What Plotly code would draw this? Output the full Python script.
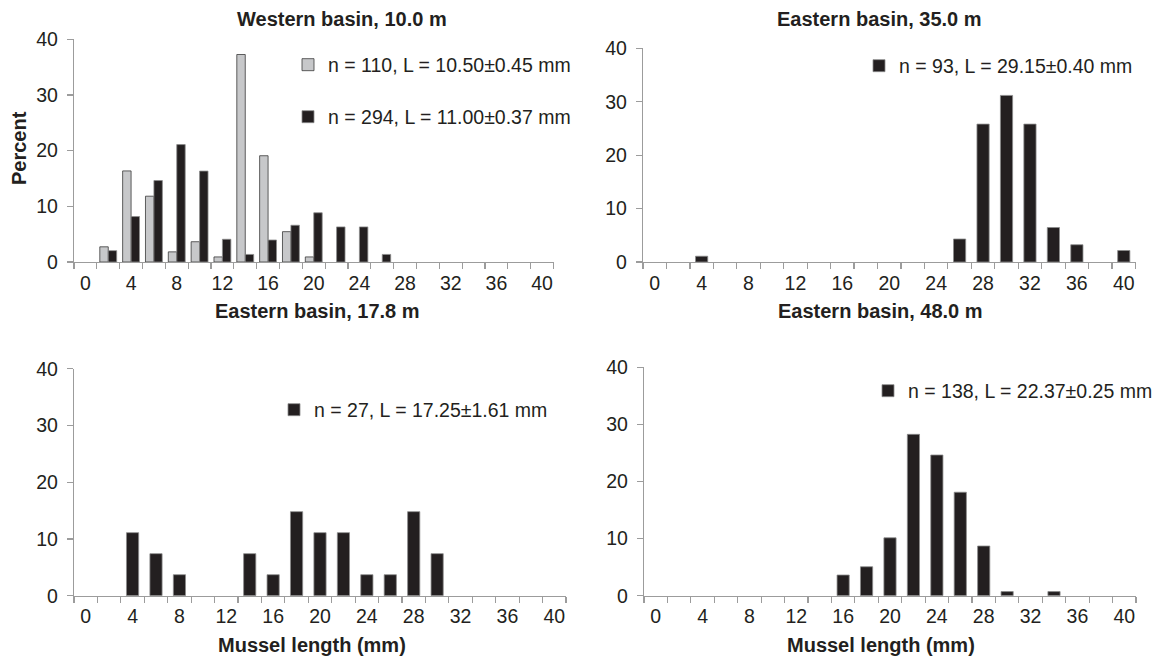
import plotly.graph_objects as go

W, H = 1158, 661

# ---------------- data ----------------
lengths = list(range(0, 42, 2))  # size classes (mm)
tick_values = list(range(0, 44, 4))
tick_labels = [str(v) for v in tick_values]
N = None  # empty size class

west10_a = [N, 2.73, 16.36, 11.82, 1.82, 3.64, 0.91, 37.27, 19.09, 5.45, 0.91,
            N, N, N, N, N, N, N, N, N, N]
west10_b = [N, 2.04, 8.16, 14.63, 21.09, 16.33, 4.08, 1.36, 3.95, 6.6, 8.84,
            6.3, 6.3, 1.36, N, N, N, N, N, N, N]
east35 = [N, N, 1.08, N, N, N, N, N, N, N, N, N, N, 4.30, 25.81, 31.18, 25.81,
          6.45, 3.23, N, 2.15]
east178 = [N, N, 11.11, 7.41, 3.70, N, N, 7.41, 3.70, 14.81, 11.11, 11.11, 3.70,
           3.70, 14.81, 7.41, N, N, N, N, N]
east48 = [N, N, N, N, N, N, N, N, 3.62, 5.07, 10.14, 28.26, 24.64, 18.12, 8.70,
          0.72, N, 0.72, N, N, N]

leg_west_a = "n = 110, L = 10.50±0.45 mm"
leg_west_b = "n = 294, L = 11.00±0.37 mm"
leg_e35 = "n = 93, L = 29.15±0.40 mm"
leg_e178 = "n = 27, L = 17.25±1.61 mm"
leg_e48 = "n = 138, L = 22.37±0.25 mm"

titles = ["Western basin, 10.0 m", "Eastern basin, 35.0 m",
          "Eastern basin, 17.8 m", "Eastern basin, 48.0 m"]
x_title = "Mussel length (mm)"
y_title = "Percent"

# ---------------- styling ----------------
BLACK = "#231f20"
GRAY = "#c7c8ca"
AXIS = "#9c9c9c"
FONT = "Liberation Sans, Arial, Helvetica, sans-serif"
FS = 19.5

def px_x(p):
    return p / W

def px_y(p):
    return 1 - p / H

# plot areas in pixels: (x0, x1, ytop, ybottom)
areas = [
    (74, 553.5, 39.3, 262),
    (643, 1135.5, 48.3, 262),
    (74, 566, 368.7, 595.7),
    (644, 1136, 367.3, 595.7),
]

fig = go.Figure()
edge_dark = dict(color="#8c8c8c", width=0.8)

fig.add_trace(go.Bar(x=lengths, y=west10_a, name=leg_west_a, marker_color=GRAY,
                     marker_line=dict(color="#3a3a3a", width=0.8),
                     xaxis="x", yaxis="y", legend="legend"))
fig.add_trace(go.Bar(x=lengths, y=west10_b, name=leg_west_b, marker_color=BLACK,
                     marker_line=edge_dark,
                     xaxis="x", yaxis="y", legend="legend5"))
fig.add_trace(go.Bar(x=lengths, y=east35, name=leg_e35, marker_color=BLACK,
                     marker_line=edge_dark, width=1.04,
                     xaxis="x2", yaxis="y2", legend="legend2"))
fig.add_trace(go.Bar(x=lengths, y=east178, name=leg_e178, marker_color=BLACK,
                     marker_line=edge_dark, width=1.04,
                     xaxis="x3", yaxis="y3", legend="legend3"))
fig.add_trace(go.Bar(x=lengths, y=east48, name=leg_e48, marker_color=BLACK,
                     marker_line=edge_dark, width=1.04,
                     xaxis="x4", yaxis="y4", legend="legend4"))

layout = dict(
    width=W, height=H,
    margin=dict(l=0, r=0, t=0, b=0, autoexpand=False),
    paper_bgcolor="white", plot_bgcolor="white",
    font=dict(family=FONT, size=FS, color="#231f20"),
    barmode="group", bargap=0.26, bargroupgap=0,
    showlegend=True,
)

for i, (x0, x1, yt, yb) in enumerate(areas):
    sfx = "" if i == 0 else str(i + 1)
    layout["xaxis" + sfx] = dict(
        domain=[px_x(x0), px_x(x1)], anchor="y" + sfx,
        range=[-1, 41], tickvals=tick_values, ticktext=tick_labels,
        ticks="outside", ticklen=3, tickcolor="rgba(0,0,0,0)",
        showline=True, linecolor=AXIS, linewidth=1.2,
        showgrid=False, zeroline=False, tickfont=dict(size=FS),
        minor=dict(tick0=-1, dtick=2, ticks="outside", ticklen=6,
                   tickcolor=AXIS, tickwidth=1.2, showgrid=False),
        fixedrange=True,
    )
    layout["yaxis" + sfx] = dict(
        domain=[px_y(yb), px_y(yt)], anchor="x" + sfx,
        range=[0, 40], tickvals=[0, 10, 20, 30, 40],
        ticks="outside", ticklen=6, tickcolor=AXIS, tickwidth=1.2,
        showline=True, linecolor=AXIS, linewidth=1.2,
        showgrid=False, zeroline=False, tickfont=dict(size=FS),
        ticklabelstandoff=5,
        fixedrange=True,
    )

leg_common = dict(bgcolor="rgba(0,0,0,0)", font=dict(size=FS, family=FONT),
                  itemwidth=30, xanchor="left", yanchor="middle",
                  itemclick=False, itemdoubleclick=False)
layout["legend"] = dict(leg_common, x=px_x(288), y=px_y(65))
layout["legend5"] = dict(leg_common, x=px_x(288), y=px_y(117))
layout["legend2"] = dict(leg_common, x=px_x(859), y=px_y(66))
layout["legend3"] = dict(leg_common, x=px_x(274), y=px_y(410))
layout["legend4"] = dict(leg_common, x=px_x(868), y=px_y(391))

annotations = []
title_pos = [(342, 19), (879, 19), (317, 311), (880, 311)]
for t, (cx, cy) in zip(titles, title_pos):
    annotations.append(dict(text="<b>" + t + "</b>", x=px_x(cx), y=px_y(cy),
                            xref="paper", yref="paper", showarrow=False,
                            xanchor="center", yanchor="middle",
                            font=dict(size=20, family=FONT)))
for cx in (312, 881):
    annotations.append(dict(text="<b>" + x_title + "</b>", x=px_x(cx),
                            y=px_y(645), xref="paper", yref="paper",
                            showarrow=False, xanchor="center", yanchor="middle",
                            font=dict(size=20, family=FONT)))
annotations.append(dict(text="<b>" + y_title + "</b>", x=px_x(19), y=px_y(148),
                        xref="paper", yref="paper", showarrow=False,
                        xanchor="center", yanchor="middle",
                        textangle=-90, font=dict(size=20, family=FONT)))
layout["annotations"] = annotations

fig.update_layout(**layout)
fig.write_html("out.html",
               config={"displayModeBar": False, "staticPlot": True},
               post_script="document.body.style.margin='0';"
                           "document.body.style.padding='0';")
